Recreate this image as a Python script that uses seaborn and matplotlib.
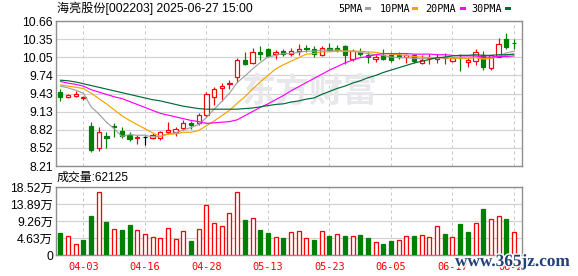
import numpy as np
import pandas as pd
import matplotlib
matplotlib.use("Agg")
import matplotlib.pyplot as plt
from matplotlib.patches import Rectangle
import matplotlib.patheffects as pe
import seaborn as sns

# ---------------- data ----------------
dates = ["03-31", "04-01", "04-02", "04-03", "04-07", "04-08", "04-09", "04-10", "04-11", "04-14",
         "04-15", "04-16", "04-17", "04-18", "04-21", "04-22", "04-23", "04-24", "04-25", "04-28",
         "04-29", "04-30", "05-06", "05-07", "05-08", "05-09", "05-12", "05-13", "05-14", "05-15",
         "05-16", "05-19", "05-20", "05-21", "05-22", "05-23", "05-26", "05-27", "05-28", "05-29",
         "05-30", "06-03", "06-04", "06-05", "06-06", "06-09", "06-10", "06-11", "06-12", "06-13",
         "06-16", "06-17", "06-18", "06-19", "06-20", "06-23", "06-24", "06-25", "06-26", "06-27"]

opens = [9.46, 9.38, 9.39, 9.36, 8.89, 8.51, 8.72, 8.89, 8.80, 8.74,
         8.68, 8.70, 8.69, 8.69, 8.79, 8.79, 8.85, 8.94, 8.93, 9.07,
         9.38, 9.52, 9.59, 9.72, 10.00, 9.95, 10.13, 10.18, 10.11, 10.16,
         10.10, 10.15, 10.21, 10.19, 10.09, 10.20, 10.21, 10.24, 10.01, 10.13,
         10.09, 10.02, 10.08, 10.09, 10.08, 10.06, 10.08, 9.95, 10.03, 10.02,
         10.05, 9.98, 10.04, 9.96, 9.99, 10.08, 9.87, 10.06, 10.36, 10.29]
highs = [9.51, 9.43, 9.47, 9.40, 8.95, 8.87, 8.78, 8.94, 8.87, 8.78,
         8.73, 8.71, 8.77, 8.80, 8.95, 8.87, 8.99, 8.97, 9.10, 9.46,
         9.55, 9.61, 9.66, 10.03, 10.13, 10.20, 10.24, 10.20, 10.17, 10.19,
         10.21, 10.27, 10.26, 10.23, 10.24, 10.28, 10.26, 10.25, 10.18, 10.21,
         10.13, 10.10, 10.18, 10.14, 10.14, 10.10, 10.11, 10.08, 10.11, 10.11,
         10.12, 10.05, 10.10, 10.04, 10.19, 10.15, 10.09, 10.37, 10.46, 10.36]
lows = [9.30, 9.36, 9.37, 9.32, 8.44, 8.47, 8.52, 8.70, 8.69, 8.63,
        8.58, 8.57, 8.67, 8.65, 8.75, 8.72, 8.82, 8.83, 8.90, 9.04,
        9.24, 9.31, 9.51, 9.63, 9.92, 9.93, 10.00, 10.05, 10.01, 10.07,
        10.07, 10.08, 10.13, 10.06, 10.07, 10.15, 10.14, 9.93, 9.99, 10.07,
        9.95, 9.96, 10.00, 9.96, 10.02, 9.95, 9.95, 9.94, 9.93, 9.95,
        9.93, 9.97, 9.81, 9.89, 9.92, 9.84, 9.84, 10.05, 10.19, 10.19]
closes = [9.38, 9.41, 9.42, 9.38, 8.48, 8.78, 8.69, 8.87, 8.72, 8.66,
          8.70, 8.70, 8.73, 8.78, 8.82, 8.83, 8.94, 8.91, 9.07, 9.42,
          9.51, 9.57, 9.62, 10.00, 9.93, 10.14, 10.10, 10.07, 10.14, 10.10,
          10.16, 10.18, 10.19, 10.11, 10.20, 10.17, 10.17, 10.08, 10.15, 10.10,
          10.06, 10.06, 10.02, 10.00, 10.06, 10.08, 9.98, 10.00, 10.06, 10.06,
          10.03, 10.04, 10.03, 10.00, 10.14, 9.88, 10.08, 10.27, 10.22, 10.28]

ma5 = [9.56, 9.53, 9.49, 9.44, 9.21, 9.09, 8.95, 8.84, 8.71, 8.74,
       8.73, 8.73, 8.70, 8.71, 8.75, 8.77, 8.82, 8.86, 8.91, 9.03,
       9.17, 9.30, 9.44, 9.62, 9.73, 9.85, 9.96, 10.05, 10.08, 10.11,
       10.11, 10.13, 10.15, 10.15, 10.17, 10.17, 10.17, 10.15, 10.15, 10.13,
       10.11, 10.09, 10.08, 10.05, 10.04, 10.04, 10.03, 10.02, 10.04, 10.04,
       10.03, 10.04, 10.04, 10.03, 10.05, 10.02, 10.03, 10.07, 10.12, 10.15]
ma10 = [9.58, 9.56, 9.54, 9.52, 9.44, 9.35, 9.26, 9.16, 9.06, 8.98,
        8.91, 8.84, 8.77, 8.71, 8.75, 8.75, 8.78, 8.78, 8.81, 8.89,
        8.97, 9.06, 9.15, 9.27, 9.38, 9.51, 9.63, 9.74, 9.85, 9.92,
        9.98, 10.04, 10.10, 10.11, 10.14, 10.14, 10.15, 10.15, 10.15, 10.15,
        10.14, 10.13, 10.11, 10.10, 10.09, 10.08, 10.06, 10.05, 10.04, 10.04,
        10.04, 10.03, 10.03, 10.03, 10.04, 10.02, 10.03, 10.06, 10.08, 10.10]
ma20 = [9.64, 9.61, 9.59, 9.56, 9.50, 9.46, 9.42, 9.38, 9.35, 9.30,
        9.25, 9.20, 9.15, 9.10, 9.07, 9.04, 9.01, 8.98, 8.96, 8.93,
        8.94, 8.95, 8.96, 8.99, 9.06, 9.13, 9.20, 9.26, 9.33, 9.40,
        9.48, 9.55, 9.62, 9.69, 9.76, 9.83, 9.89, 9.95, 10.00, 10.04,
        10.06, 10.09, 10.11, 10.11, 10.11, 10.11, 10.10, 10.10, 10.10, 10.09,
        10.09, 10.08, 10.07, 10.07, 10.07, 10.05, 10.05, 10.06, 10.06, 10.07]
ma30 = [9.66, 9.65, 9.63, 9.60, 9.57, 9.54, 9.51, 9.48, 9.45, 9.42,
        9.39, 9.36, 9.33, 9.31, 9.28, 9.25, 9.22, 9.20, 9.18, 9.17,
        9.17, 9.17, 9.17, 9.17, 9.18, 9.19, 9.21, 9.23, 9.25, 9.26,
        9.29, 9.31, 9.34, 9.36, 9.42, 9.47, 9.52, 9.56, 9.61, 9.65,
        9.70, 9.74, 9.79, 9.83, 9.87, 9.91, 9.95, 9.98, 10.01, 10.04,
        10.05, 10.07, 10.08, 10.08, 10.09, 10.08, 10.08, 10.09, 10.09, 10.10]

# volume in 万 shares
volume = [6.05, 5.06, 2.90, 4.06, 10.57, 17.25, 9.03, 6.95, 6.77, 8.13,
          6.68, 5.60, 4.79, 4.52, 7.23, 4.24, 6.41, 3.79, 6.95, 13.73,
          8.85, 7.77, 11.56, 17.25, 9.48, 10.20, 6.77, 5.96, 4.79, 4.60,
          6.23, 6.50, 4.52, 4.06, 6.50, 5.15, 5.60, 5.15, 5.06, 5.42,
          4.60, 3.52, 2.98, 3.79, 4.06, 5.06, 5.15, 5.33, 4.79, 7.77,
          5.69, 4.79, 8.40, 6.23, 8.58, 12.46, 9.93, 10.75, 9.75, 6.21]
vol_up = "GRRGGRGRGGRRRRRRRGRRRRRRGRGGRGRRRGRGRGRGGRGGRRGRRRGRGGRGRRGR"

price_labels = ["8.21", "8.52", "8.82", "9.13", "9.43", "9.74", "10.05", "10.35", "10.66"]
vol_labels = ["0", "4.63万", "9.26万", "13.89万", "18.52万"]
xlabel_dates = ["04-03", "04-16", "04-28", "05-13", "05-23", "06-05", "06-17", "06-27"]
ma_names = ["5PMA", "10PMA", "20PMA", "30PMA"]
ma_colors = ["#a0a0a0", "#f5a300", "#ff00ff", "#006b35"]
title = "海亮股份[002203] 2025-06-27 15:00"
vol_title = "成交量:62125"

# ---------------- style ----------------
sns.set_theme(style="white")
plt.rcParams['font.family'] = ['Liberation Sans', 'Noto Sans CJK SC', 'DejaVu Sans']

W, H = 578, 276
PX = 0.72
fig = plt.figure(figsize=(W / 100, H / 100), dpi=100)
fig.patch.set_facecolor("white")


def rect(l, t, r, b):
    return [l / W, 1 - b / H, (r - l) / W, (b - t) / H]


ax = fig.add_axes(rect(56, 21, 522, 166))
axv = fig.add_axes(rect(56, 187, 522, 255))

n = len(dates)
x = np.arange(n)
O, Hh, L, C = map(np.array, (opens, highs, lows, closes))
RED, GREEN = "#ff0000", "#008000"
ccol = np.where(C > O, RED, np.where(C < O, GREEN, "#000000"))
face = np.where(C > O, "white", ccol)

# watermark behind
ax.text((310 - 56) / 466, 1 - (92 - 21) / 145, "东方财富", transform=ax.transAxes,
        ha="center", va="center", fontsize=24.5, fontweight="bold",
        color="#e8e8ec", family=['Noto Sans CJK SC'], zorder=1)

# candles
ax.vlines(x, L, Hh, colors=ccol, lw=PX * 1.2, zorder=2)
ax.bar(x, np.abs(C - O), bottom=np.minimum(O, C), width=0.56, color=face,
       edgecolor=ccol, linewidth=PX * 1.2, zorder=3)

# moving averages
ma_df = pd.DataFrame({"idx": x, "5PMA": ma5, "10PMA": ma10, "20PMA": ma20, "30PMA": ma30})
for name, col in zip(ma_names, ma_colors):
    sns.lineplot(data=ma_df, x="idx", y=name, ax=ax, color=col, linewidth=0.85,
                 legend=False, estimator=None, zorder=4)

# volume
vcol = [RED if f == "R" else GREEN for f in vol_up]
vface = ["white" if f == "R" else GREEN for f in vol_up]
axv.bar(x, volume, width=0.52, color=vface, edgecolor=vcol, linewidth=PX * 1.3, zorder=3)

# axes formatting
xt = [dates.index(d) for d in xlabel_dates]
for a in (ax, axv):
    a.set_xlim(-0.56, n + 0.04)
    a.set_xlabel("")
    a.set_ylabel("")
    a.set_xticks(xt)
    a.set_axisbelow(True)
    a.grid(axis="x", color="#c8c8c8", lw=PX, ls=(0, (3, 3)))
    a.grid(axis="y", color="#d2d2d2", lw=PX * 1.2, ls="-")
    a.tick_params(length=0, labelsize=8.8, colors="#000000", pad=2.2)
    for s in a.spines.values():
        s.set_color("#8f8f8f")
        s.set_linewidth(PX * 1.4)

ax.set_ylim(8.21, 10.66)
ax.set_yticks(np.linspace(8.21, 10.66, len(price_labels)))
ax.set_yticklabels(price_labels)
ax.set_xticklabels([])

axv.set_ylim(0, 18.52)
axv.set_yticks(np.linspace(0, 18.52, len(vol_labels)))
axv.set_yticklabels(vol_labels)
axv.set_xticklabels(xlabel_dates)
axv.tick_params(axis="x", pad=5.0)
for t in axv.get_xticklabels():
    t.set_color(RED)
    t.set_fontfamily("DejaVu Sans Mono")
    t.set_fontsize(7.4)

# title and volume header
fig.text(57 / W, 1 - 8.5 / H, title, ha="left", va="center", fontsize=8.7,
         color="#000000", family=['Liberation Sans', 'Noto Sans CJK SC'])
fig.text(57 / W, 1 - 177.5 / H, vol_title, ha="left", va="center", fontsize=8.6,
         color="#000000", family=['Liberation Sans', 'Noto Sans CJK SC'])

# legend
leg_text_x = [338, 379.5, 425, 471]
leg_mark_x = [365, 412, 459.5, 504.5]
for name, col, tx, mx in zip(ma_names, ma_colors, leg_text_x, leg_mark_x):
    fig.text(tx / W, 1 - 8.8 / H, name, ha="left", va="center", fontsize=7.3,
             family="DejaVu Sans Mono", color="#000000")
    fig.add_artist(Rectangle((mx / W, 1 - 10 / H), 6 / W, 3 / H,
                             transform=fig.transFigure, facecolor=col, edgecolor="none"))

# site watermark
fig.text(455 / W, 1 - 262 / H, "www.365jz.com", ha="left", va="center", fontsize=12.4,
         fontweight="bold", family="Liberation Serif", color="#22407a", zorder=10,
         path_effects=[pe.withStroke(linewidth=2, foreground="white")])

fig.savefig("out.png", dpi=100, facecolor="white")
